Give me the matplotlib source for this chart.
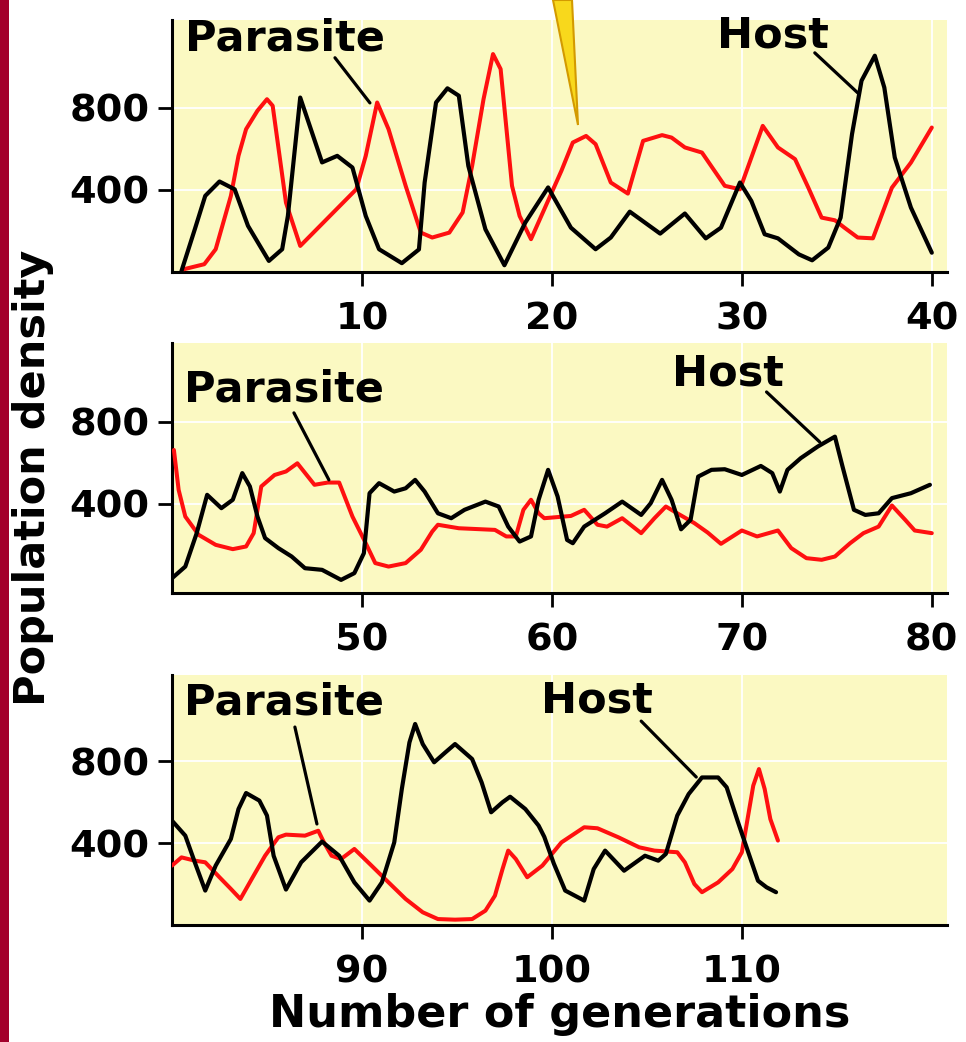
import matplotlib
matplotlib.use("Agg")
import matplotlib.pyplot as plt
from matplotlib.patches import Polygon, Rectangle

plt.rcParams['font.family'] = ['DejaVu Sans']
plt.rcParams['font.weight'] = 'bold'

# ---------------- data (generation, population density) ----------------
host_gen_1 = [0.5, 1.2, 1.75, 2.5, 3.3, 4.0, 5.1, 5.8, 6.1, 6.75, 7.9, 8.7, 9.5, 10.2, 10.9, 12.1,
              13.0, 13.3, 13.9, 14.5, 15.1, 15.6, 16.5, 17.5, 18.6, 19.8, 21.0, 22.3, 23.1, 24.1,
              25.7, 27.0, 28.1, 28.9, 29.9, 30.5, 31.2, 31.9, 33.0, 33.7, 34.55, 35.2, 35.8, 36.3,
              37.0, 37.5, 38.05, 38.9, 40.0]
host_1 = [5, 208, 371, 441, 403, 225, 54, 111, 273, 850, 534, 566, 509, 273, 111, 43,
          110, 436, 826, 895, 859, 517, 208, 33, 241, 412, 216, 111, 168, 294,
          187, 285, 164, 216, 436, 346, 184, 164, 86, 57, 119, 265, 672, 932,
          1054, 899, 558, 314, 94]
para_gen_1 = [0.6, 1.7, 2.3, 3.1, 3.5, 3.9, 4.5, 5.0, 5.3, 6.0, 6.75, 9.7, 10.2, 10.8, 11.4, 12.3,
              13.1, 13.7, 14.6, 15.3, 15.8, 16.4, 16.9, 17.3, 17.9, 18.3, 18.9, 19.6, 20.5, 21.1,
              21.8, 22.3, 23.1, 24.0, 24.8, 25.8, 26.3, 27.0, 27.9, 29.1, 29.9, 31.1, 31.9, 32.8,
              33.5, 34.2, 34.9, 35.4, 36.1, 36.9, 37.9, 38.9, 40.0]
para_1 = [13, 38, 111, 371, 566, 696, 786, 842, 810, 338, 127, 403, 566, 826, 696, 420,
          192, 168, 192, 290, 517, 842, 1062, 989, 420, 273, 160, 306, 493, 631,
          663, 623, 436, 382, 639, 667, 655, 607, 582, 420, 403, 712, 607, 550,
          411, 265, 252, 216, 168, 164, 411, 533, 704]

host_gen_2 = [40.0, 40.7, 41.3, 41.85, 42.6, 43.2, 43.7, 44.1, 44.5, 44.9, 45.6, 46.3, 47.0, 47.9,
              48.9, 49.6, 50.1, 50.4, 50.9, 51.7, 52.3, 52.8, 53.3, 54.0, 54.7, 55.4, 56.5, 57.2,
              57.7, 58.3, 58.9, 59.3, 59.8, 60.3, 60.8, 61.1, 61.7, 62.8, 63.7, 64.7, 65.2, 65.8,
              66.3, 66.8, 67.3, 67.7, 68.4, 69.1, 70.0, 71.0, 71.6, 72.0, 72.4, 73.1, 74.0, 74.9,
              75.3, 75.9, 76.5, 77.2, 77.9, 78.9, 79.9]
host_2 = [37, 94, 257, 444, 379, 420, 550, 485, 338, 233, 184, 143, 86, 78,
          29, 62, 159, 452, 501, 460, 476, 517, 460, 354, 330, 371, 411, 387,
          289, 216, 241, 420, 566, 436, 224, 208, 289, 354, 411, 346, 403, 517,
          420, 276, 322, 533, 566, 569, 541, 585, 550, 460, 566, 623, 680, 728,
          582, 371, 346, 354, 428, 452, 493]
para_gen_2 = [40.1, 40.35, 40.7, 41.4, 42.3, 43.2, 43.9, 44.3, 44.7, 45.4, 46.0, 46.6, 47.5, 48.2,
              48.8, 49.5, 50.2, 50.7, 51.4, 52.3, 53.1, 53.7, 54.0, 55.1, 57.0, 57.6, 58.1, 58.5,
              58.9, 59.3, 59.6, 61.0, 61.7, 62.4, 62.9, 63.7, 64.7, 65.4, 66.0, 66.6, 67.5, 68.2,
              68.9, 70.0, 70.8, 71.9, 72.6, 73.4, 74.2, 74.9, 75.7, 76.4, 77.2, 77.9, 78.6, 79.1, 80.0]
para_2 = [663, 468, 338, 249, 200, 179, 192, 257, 485, 541, 558, 598, 493, 504,
          504, 338, 208, 111, 94, 111, 176, 265, 298, 281, 273, 241, 241, 371,
          420, 354, 330, 341, 371, 298, 289, 330, 257, 330, 387, 354, 306, 260,
          205, 270, 241, 270, 184, 135, 127, 143, 208, 257, 289, 392, 322, 270, 257]

host_gen_3 = [80.0, 80.7, 81.2, 81.75, 82.3, 83.1, 83.5, 83.9, 84.6, 85.0, 85.35, 86.0, 86.8, 87.9,
              88.8, 89.6, 90.4, 91.05, 91.7, 92.1, 92.5, 92.8, 93.2, 93.8, 94.4, 94.9, 95.8, 96.3,
              96.8, 97.4, 97.8, 98.6, 99.3, 99.6, 100.1, 100.7, 101.7, 102.2, 102.8, 103.8, 104.9,
              105.6, 106.0, 106.6, 107.2, 107.9, 108.75, 109.2, 109.8, 110.4, 110.85, 111.3, 111.8]
host_3 = [509, 436, 306, 168, 290, 420, 566, 644, 607, 534, 338, 173, 306, 407,
          338, 208, 119, 208, 403, 664, 891, 981, 883, 794, 843, 883, 810, 696,
          550, 599, 626, 566, 485, 430, 300, 168, 119, 273, 363, 265, 338,
          314, 347, 534, 639, 720, 720, 672, 501, 338, 216, 184, 160]
para_gen_3 = [80.0, 80.5, 81.2, 81.75, 82.5, 83.1, 83.6, 84.2, 84.9, 85.6, 86.0, 87.0, 87.7, 88.0,
              88.4, 88.9, 89.6, 90.5, 91.4, 92.3, 93.2, 94.0, 94.9, 95.8, 96.5, 97.0, 97.4, 97.7,
              98.1, 98.7, 99.5, 100.5, 101.7, 102.4, 103.5, 104.6, 105.4, 106.6, 107.0, 107.5,
              107.9, 108.75, 109.5, 110.0, 110.3, 110.6, 110.9, 111.2, 111.5, 111.9]
para_3 = [290, 330, 314, 306, 233, 176, 127, 225, 338, 428, 441, 436, 460, 403,
          338, 322, 371, 290, 208, 127, 62, 29, 26, 29, 70, 143, 273, 363,
          322, 233, 290, 403, 477, 472, 428, 379, 363, 355, 306, 200,
          160, 208, 273, 355, 517, 680, 761, 664, 517, 412]

x_ticks = [[10, 20, 30, 40], [50, 60, 70, 80], [90, 100, 110]]
y_ticks = [400, 800]
x_limits = [(0, 40.8), (40, 80.8), (80, 120.8)]
y_limits = [(0, 1228), (-35, 1185), (0, 1220)]

# annotation anchors (data coords): label position, leader start, leader end
parasite_label = [(0.68, 1078), (40.63, 898), (80.63, 1029)]
parasite_leader = [((8.58, 1044), (10.42, 824)), ((46.42, 844), (48.26, 517)), ((86.47, 966), (87.63, 493))]
host_label = [(28.7, 1093), (66.3, 980), (99.45, 1039)]
host_leader = [((33.84, 1068), (36.1, 873)), ((71.3, 946), (74.1, 702)), ((104.7, 995), (107.6, 722))]

hosts = [(host_gen_1, host_1), (host_gen_2, host_2), (host_gen_3, host_3)]
paras = [(para_gen_1, para_1), (para_gen_2, para_2), (para_gen_3, para_3)]

# ---------------- figure ----------------
W, H = 966, 1042
fig = plt.figure(figsize=(W / 100, H / 100), dpi=100)
fig.patch.set_facecolor('white')

def px_rect(l, t, r, b):
    return [l / W, 1 - b / H, (r - l) / W, (b - t) / H]

rects = [px_rect(172, 20, 947, 272), px_rect(172, 343, 947, 593), px_rect(172, 675, 947, 925)]
yellow = '#fbf9c2'
red = '#ff1010'

for i in range(3):
    ax = fig.add_axes(rects[i])
    ax.set_facecolor(yellow)
    ax.plot(*paras[i], color=red, lw=2.9, solid_joinstyle='round', solid_capstyle='round', zorder=3)
    ax.plot(*hosts[i], color='black', lw=3.0, solid_joinstyle='round', solid_capstyle='round', zorder=4)
    ax.set_xlim(*x_limits[i])
    ax.set_ylim(*y_limits[i])
    ax.set_xticks(x_ticks[i])
    ax.set_yticks(y_ticks)
    ax.grid(True, color='white', lw=1.3, zorder=1)
    ax.set_axisbelow(True)
    for s in ['top', 'right']:
        ax.spines[s].set_visible(False)
    for s in ['left', 'bottom']:
        ax.spines[s].set_linewidth(2.2)
    ax.tick_params(axis='x', direction='out', length=10, width=2, labelsize=27.5, pad=11)
    ax.tick_params(axis='y', direction='out', length=10, width=2, labelsize=27.5, pad=6)
    for lab in ax.get_xticklabels() + ax.get_yticklabels():
        lab.set_fontweight('bold')

    ax.text(*parasite_label[i], 'Parasite', fontsize=31, fontweight='bold', ha='left', va='baseline', zorder=6)
    ax.text(*host_label[i], 'Host', fontsize=31, fontweight='bold', ha='left', va='baseline', zorder=6)
    for st, en in (parasite_leader[i], host_leader[i]):
        ax.annotate('', xy=en, xytext=st,
                    arrowprops=dict(arrowstyle='-', lw=2.3, color='black', shrinkA=0, shrinkB=0),
                    zorder=6)

fig.text(33 / W, 1 - 478 / H, 'Population density', rotation=90, fontsize=31,
         fontweight='bold', ha='center', va='center')
fig.text(560 / W, 1 - 1027 / H, 'Number of generations', fontsize=32,
         fontweight='bold', ha='center', va='baseline')

# left crimson bar
fig.add_artist(Rectangle((0, 0), 9 / W, 1, transform=fig.transFigure,
                         facecolor='#a3002b', edgecolor='none', zorder=0))
# yellow callout spike from above
fig.add_artist(Polygon([(553 / W, 1.0), (572 / W, 1.0), (578 / W, 1 - 125 / H)],
                       closed=True, transform=fig.transFigure, facecolor='#f8d81c',
                       edgecolor='#d39a00', lw=1.5, zorder=10))

fig.savefig('out.png', dpi=100, facecolor='white')
